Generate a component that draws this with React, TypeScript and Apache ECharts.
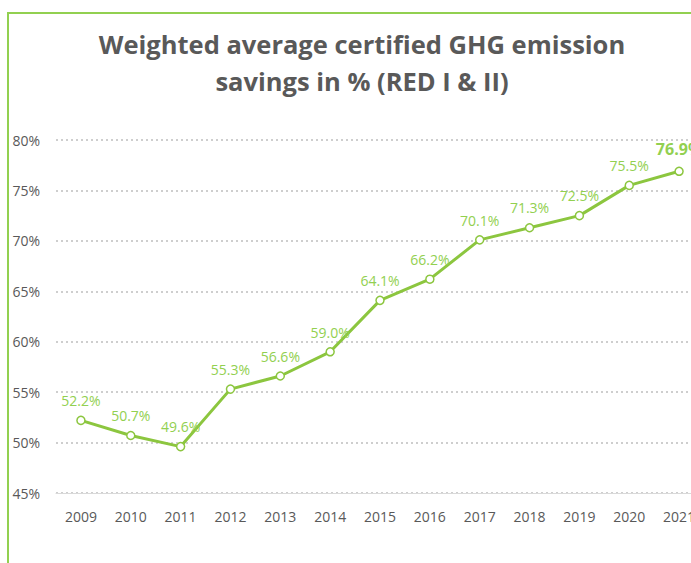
import React, { useEffect, useRef } from "react";
import * as echarts from "echarts";

const categories = ["2009", "2010", "2011", "2012", "2013", "2014", "2015", "2016", "2017", "2018", "2019", "2020", "2021"];
const savings = [52.2, 50.7, 49.6, 55.3, 56.6, 59.0, 64.1, 66.2, 70.1, 71.3, 72.5, 75.5, 76.9];
const titleLines = ["Weighted average certified GHG emission", "savings in % (RED I & II)"];

const FONT = "'Open Sans', 'Noto Sans', sans-serif";

export default function App() {
  const ref = useRef<HTMLDivElement>(null);
  useEffect(() => {
    if (!ref.current) return;
    const chart = echarts.init(ref.current, undefined, { renderer: "svg" });
    const last = savings.length - 1;
    chart.setOption({
      animation: false,
      backgroundColor: "#ffffff",
      title: {
        text: titleLines.join("\n"),
        left: 357,
        top: 20,
        textAlign: "center",
        textStyle: {
          fontFamily: FONT,
          fontSize: 25.5,
          fontWeight: "bold",
          color: "#595959",
          lineHeight: 37,
        },
      },
      graphic: [
        { type: "line", shape: { x1: 8, y1: 13, x2: 8, y2: 563 }, style: { stroke: "#92d050", lineWidth: 2 } },
        { type: "line", shape: { x1: 7, y1: 13, x2: 720, y2: 13 }, style: { stroke: "#92d050", lineWidth: 2 } },
      ],
      grid: { left: 56, right: 16, top: 140, bottom: 70, containLabel: false },
      xAxis: {
        type: "category",
        data: categories,
        boundaryGap: true,
        axisLine: { show: true, lineStyle: { color: "#d9d9d9", width: 1 } },
        axisTick: { show: false },
        axisLabel: { color: "#595959", fontFamily: FONT, fontSize: 14, margin: 16 },
      },
      yAxis: {
        type: "value",
        min: 45,
        max: 80,
        interval: 5,
        axisLine: { show: false },
        axisTick: { show: false },
        axisLabel: {
          color: "#595959",
          fontFamily: FONT,
          fontSize: 14,
          margin: 16,
          formatter: (v: number) => v + "%",
        },
        splitLine: { lineStyle: { color: "#bfbfbf", type: [2, 3], width: 1.5 } },
      },
      series: [
        {
          type: "line",
          data: savings.map((v, i) =>
            i === last
              ? { value: v, label: { fontWeight: "bold", fontSize: 16, offset: [0, -2] } }
              : v
          ),
          symbol: "circle",
          symbolSize: 8,
          itemStyle: { color: "#ffffff", borderColor: "#8cc63f", borderWidth: 1.5 },
          lineStyle: { color: "#8cc63f", width: 3 },
          label: {
            show: true,
            position: "top",
            distance: 8,
            color: "#92d050",
            fontFamily: FONT,
            fontSize: 14,
            formatter: (p: any) => p.value.toFixed(1) + "%",
          },
        },
      ],
    });
    return () => chart.dispose();
  }, []);
  return (
    <div style={{ position: "fixed", left: 0, top: 0, width: 691, height: 563, overflow: "hidden", background: "#fff" }}>
      <div ref={ref} style={{ width: 720, height: 563 }} />
    </div>
  );
}
